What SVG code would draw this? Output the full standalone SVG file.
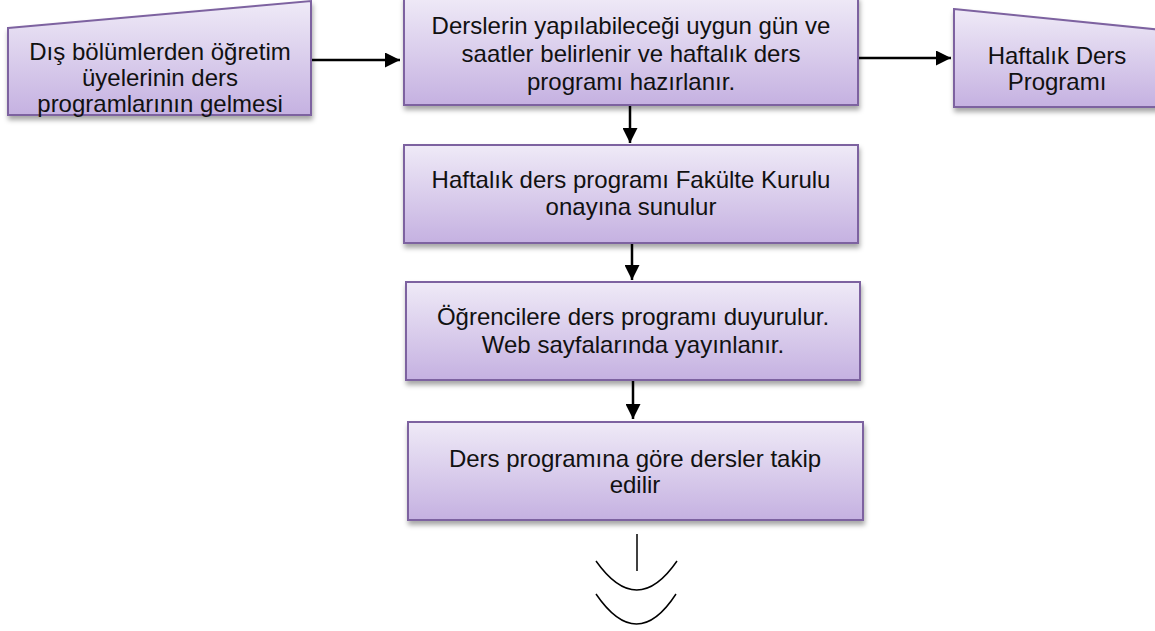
<svg xmlns="http://www.w3.org/2000/svg" width="1155" height="631" viewBox="0 0 1155 631">
<defs>
<linearGradient id="g" x1="0" y1="0" x2="0" y2="1">
<stop offset="0" stop-color="#efeaf7"/>
<stop offset="1" stop-color="#c5b1e1"/>
</linearGradient>
<filter id="sh" x="-10%" y="-20%" width="120%" height="150%">
<feDropShadow dx="1" dy="4" stdDeviation="2.5" flood-color="#000" flood-opacity="0.35"/>
</filter>
<marker id="ah" viewBox="0 0 10 10" refX="10" refY="5" markerWidth="15" markerHeight="15" markerUnits="userSpaceOnUse" orient="auto">
<path d="M0,0 L10,5 L0,10 Z" fill="#000"/>
</marker>
<style>
.n{fill:url(#g);stroke:#7d62a0;stroke-width:2;filter:url(#sh)}
.t{font-family:"Liberation Sans",Arial,sans-serif;font-size:24px;fill:#111;text-anchor:middle}
.c{stroke:#000;stroke-width:2.5;fill:none}
</style>
</defs>
<rect width="1155" height="631" fill="#fff"/>
<g id="connectors">
<line class="c" x1="311" y1="60" x2="400" y2="60" marker-end="url(#ah)"/>
<line class="c" x1="859" y1="58" x2="951" y2="58" marker-end="url(#ah)"/>
<line class="c" x1="630" y1="105" x2="630" y2="143" marker-end="url(#ah)"/>
<line class="c" x1="632" y1="243" x2="632" y2="280" marker-end="url(#ah)"/>
<line class="c" x1="633" y1="380" x2="633" y2="419" marker-end="url(#ah)"/>
</g>
<g id="n-input">
<path class="n" d="M8,28 L311,1 L311,115 L8,115 Z"/>
<text class="t" x="160" y="60">Dış bölümlerden öğretim</text>
<text class="t" x="160" y="86">üyelerinin ders</text>
<text class="t" x="160" y="112">programlarının gelmesi</text>
</g>
<g id="n-prepare">
<rect class="n" x="404" y="-3" width="454" height="108"/>
<text class="t" x="631" y="34">Derslerin yapılabileceği uygun gün ve</text>
<text class="t" x="631" y="62">saatler belirlenir ve haftalık ders</text>
<text class="t" x="631" y="90">programı hazırlanır.</text>
</g>
<g id="n-output">
<path class="n" d="M954,9 L1162,30 L1162,107 L954,107 Z"/>
<text class="t" x="1057" y="64">Haftalık Ders</text>
<text class="t" x="1057" y="90">Programı</text>
</g>
<g id="n-approve">
<rect class="n" x="404" y="145" width="454" height="98"/>
<text class="t" x="631" y="188">Haftalık ders programı Fakülte Kurulu</text>
<text class="t" x="631" y="215">onayına sunulur</text>
</g>
<g id="n-announce">
<rect class="n" x="406" y="282" width="454" height="98"/>
<text class="t" x="633" y="325">Öğrencilere ders programı duyurulur.</text>
<text class="t" x="633" y="353">Web sayfalarında yayınlanır.</text>
</g>
<g id="n-follow">
<rect class="n" x="408" y="422" width="455" height="98"/>
<text class="t" x="635" y="467">Ders programına göre dersler takip</text>
<text class="t" x="635" y="493">edilir</text>
</g>
<g id="n-end">
<line x1="637" y1="534" x2="637" y2="571" stroke="#000" stroke-width="1.5"/>
<path d="M596,561 Q637,619 677,561" fill="none" stroke="#000" stroke-width="1.5"/>
<path d="M596,594 Q637,654 676,594" fill="none" stroke="#000" stroke-width="1.5"/>
</g>
</svg>
